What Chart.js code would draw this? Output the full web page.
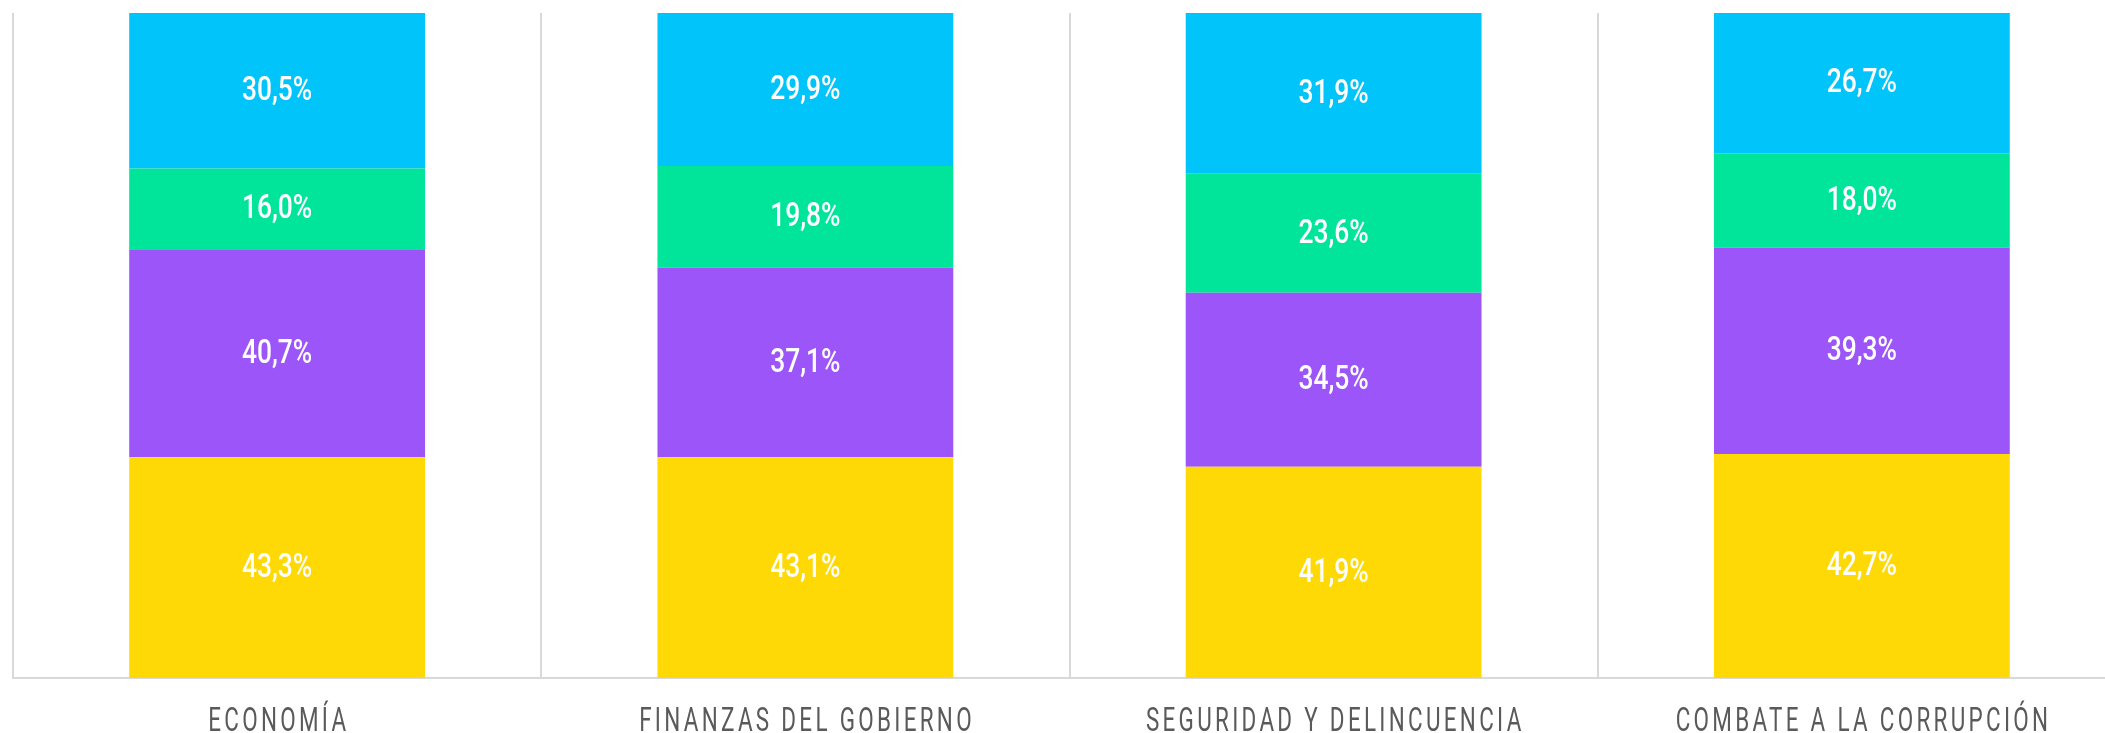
<!DOCTYPE html>
<html>
<head>
<meta charset="utf-8">
<script src="https://cdn.jsdelivr.net/npm/chart.js@4.4.0/dist/chart.umd.min.js"></script>
<style>
  html, body { margin: 0; padding: 0; background: #fff; overflow: hidden; }
  #wrap { width: 2126px; height: 733px; position: relative; }
</style>
</head>
<body>
<div id="wrap"><canvas id="myChart"></canvas></div>
<script>
// categories and values
const categories = ['ECONOMÍA', 'FINANZAS DEL GOBIERNO', 'SEGURIDAD Y DELINCUENCIA', 'COMBATE A LA CORRUPCIÓN'];
const serieAmarilla = [43.3, 43.1, 41.9, 42.7];
const serieMorada = [40.7, 37.1, 34.5, 39.3];
const serieVerde = [16.0, 19.8, 23.6, 18.0];
const serieAzul = [30.5, 29.9, 31.9, 26.7];

const series = [serieAmarilla, serieMorada, serieVerde, serieAzul];
const colors = ['#FED905', '#9C55F8', '#00E599', '#00C4FA'];

// bars are drawn as 100% stacks
const totals = categories.map((c, i) => series.reduce((s, arr) => s + arr[i], 0));

function fmt(v) {
    return v.toFixed(1).replace('.', ',') + '%';
}

// draw text squeezed horizontally (condensed look)
function squeezed(ctx, text, x, y, sx) {
    ctx.save();
    ctx.translate(x, y);
    ctx.scale(sx, 1);
    ctx.fillText(text, 0, 0);
    ctx.restore();
}

const labelsPlugin = {
    id: 'labelsPlugin',
    afterDraw(chart) {
        const ctx = chart.ctx;
        // values inside the segments
        ctx.save();
        ctx.fillStyle = '#ffffff';
        ctx.font = '500 33px Roboto, sans-serif';
        ctx.textAlign = 'center';
        ctx.textBaseline = 'middle';
        chart.data.datasets.forEach((ds, di) => {
            const meta = chart.getDatasetMeta(di);
            meta.data.forEach((bar, i) => {
                const y = (bar.y + bar.base) / 2;
                squeezed(ctx, fmt(ds.raw[i]), bar.x, y + 1, 0.8);
            });
        });
        ctx.restore();

        // category labels
        const xScale = chart.scales.x;
        const spacing = 5;
        const sx = 0.66;
        ctx.save();
        ctx.fillStyle = '#5a5a5a';
        ctx.font = '34px Roboto, sans-serif';
        ctx.letterSpacing = spacing + 'px';
        ctx.textAlign = 'center';
        ctx.textBaseline = 'alphabetic';
        categories.forEach((c, i) => {
            const x = xScale.getPixelForTick(i);
            squeezed(ctx, c, x + spacing * sx / 2, 731, sx);
        });
        ctx.restore();
    }
};

const ctx = document.getElementById('myChart').getContext('2d');

new Chart(ctx, {
    type: 'bar',
    data: {
        labels: categories,
        datasets: series.map((arr, k) => ({
            label: 'Serie ' + (k + 1),
            data: arr.map((v, i) => v / totals[i] * 100),
            raw: arr,
            backgroundColor: colors[k],
            borderWidth: 0,
            barPercentage: 1,
            categoryPercentage: 0.56
        }))
    },
    options: {
        responsive: true,
        maintainAspectRatio: false,
        animation: false,
        layout: { padding: { left: 13, top: 13, right: 0, bottom: 55 } },
        plugins: {
            legend: { display: false },
            tooltip: { enabled: false }
        },
        scales: {
            x: {
                stacked: true,
                grid: { color: '#d9d9d9', lineWidth: 2, drawTicks: false, offset: true },
                border: { color: '#d9d9d9', width: 2 },
                ticks: { display: false }
            },
            y: {
                stacked: true,
                display: false,
                min: 0,
                max: 100
            }
        }
    },
    plugins: [labelsPlugin]
});
</script>
</body>
</html>
